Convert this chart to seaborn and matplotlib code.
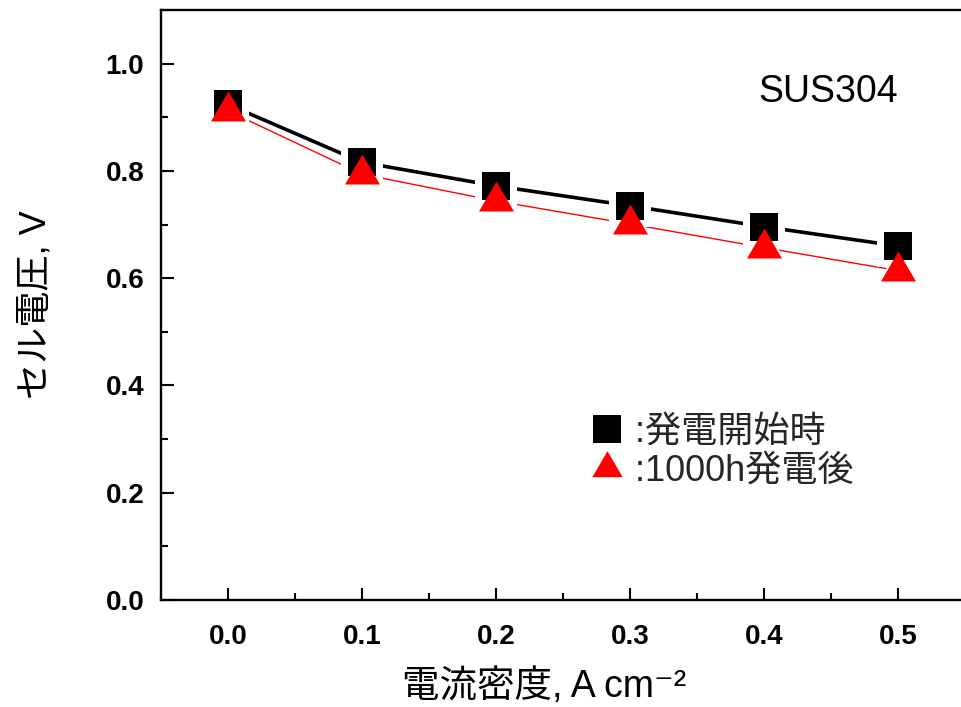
import numpy as np
import pandas as pd
import matplotlib
matplotlib.use("Agg")
import matplotlib.pyplot as plt
from matplotlib.lines import Line2D
from matplotlib.ticker import MultipleLocator
import seaborn as sns

# ---- data ----
current_density = [0.0, 0.1, 0.2, 0.3, 0.4, 0.5]
voltage_start = [0.924, 0.816, 0.772, 0.735, 0.696, 0.660]
voltage_1000h = [0.912, 0.794, 0.744, 0.701, 0.657, 0.614]
label_start = " :発電開始時"
label_1000h = " :1000h発電後"
sample_name = "SUS304"
xlabel = "電流密度, A cm⁻²"
ylabel = "セル電圧, V"

sns.set_theme(style="white")
FAM = ["Liberation Sans", "Noto Sans CJK JP", "DejaVu Sans"]
plt.rcParams["font.family"] = FAM

df = pd.DataFrame({"x": current_density, "start": voltage_start, "after": voltage_1000h})

fig = plt.figure(figsize=(9.61, 7.07), dpi=100)
ax = fig.add_axes([161 / 961, 107 / 707, 804 / 961, 590 / 707])

tri = [(0, 20), (-17.5, -10), (17.5, -10), (0, 20)]

# lines
sns.lineplot(data=df, x="x", y="start", color="black", lw=2.6, ax=ax, zorder=2)
sns.lineplot(data=df, x="x", y="after", color="red", lw=1.0, ax=ax, zorder=2)
# white pads to create gaps around markers
sns.scatterplot(data=df, x="x", y="start", marker="s", s=30**2, color="white",
                linewidth=0, ax=ax, zorder=3)
sns.scatterplot(data=df, x="x", y="after", marker=tri, s=34**2, color="white",
                linewidth=0, ax=ax, zorder=3)
# markers
sns.scatterplot(data=df, x="x", y="start", marker="s", s=20**2, color="black",
                linewidth=0, ax=ax, zorder=4)
sns.scatterplot(data=df, x="x", y="after", marker=tri, s=28.8**2, color="red",
                linewidth=0, ax=ax, zorder=5)

ax.set_xlim(-0.05, 0.55)
ax.set_ylim(0, 1.1)
ax.xaxis.set_major_locator(MultipleLocator(0.1))
ax.xaxis.set_minor_locator(MultipleLocator(0.05))
ax.yaxis.set_major_locator(MultipleLocator(0.2))
ax.yaxis.set_minor_locator(MultipleLocator(0.1))
ax.xaxis.set_major_formatter(matplotlib.ticker.FormatStrFormatter("%.1f"))
ax.yaxis.set_major_formatter(matplotlib.ticker.FormatStrFormatter("%.1f"))

ax.tick_params(which="both", direction="in", color="black", width=1.5,
               bottom=True, left=True, top=False, right=False)
ax.tick_params(which="major", length=9)
ax.tick_params(which="minor", length=5)
ax.tick_params(axis="x", which="major", pad=17)
ax.tick_params(axis="y", which="major", pad=12)
for lab in ax.get_xticklabels() + ax.get_yticklabels():
    lab.set_fontfamily("Liberation Sans")
    lab.set_fontweight("bold")
    lab.set_fontsize(20)
    lab.set_color("black")

for side in ["left", "bottom", "top"]:
    ax.spines[side].set_visible(True)
    ax.spines[side].set_color("black")
    ax.spines[side].set_linewidth(1.7)
ax.spines["right"].set_visible(False)

ax.set_xlabel(xlabel, fontsize=27, family=FAM, color="black")
ax.xaxis.set_label_coords((544 - 161) / 804, -(687 - 600) / 590)
ax.xaxis.label.set_va("center")
ax.set_ylabel(ylabel, fontsize=26, family=FAM, color="black")
ax.yaxis.set_label_coords(-(161 - 36) / 804, 0.5)
ax.yaxis.label.set_va("center")

ax.text(0.83, 0.861, sample_name, transform=ax.transAxes, ha="center", va="center",
        fontsize=27, family=FAM, color="black")

handles = [
    Line2D([], [], marker="s", markersize=20, color="black", linestyle="none", markeredgewidth=0),
    Line2D([], [], marker=tri, markersize=25, color="red", linestyle="none", markeredgewidth=0),
]
ax.legend(handles, [label_start, label_1000h], loc="upper left",
          bbox_to_anchor=(0.51, 0.345), frameon=False, handlelength=1.0,
          handletextpad=0.0, labelspacing=0.12, borderpad=0,
          prop={"family": FAM, "size": 26})

fig.savefig("out.png", dpi=100, facecolor="white")
